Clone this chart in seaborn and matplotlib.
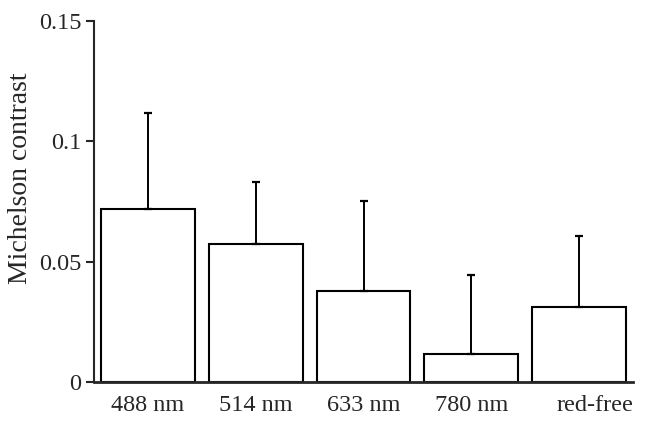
import numpy as np
import pandas as pd
import matplotlib
matplotlib.use("Agg")
import matplotlib.pyplot as plt
import matplotlib.transforms as mtransforms
import seaborn as sns

# values
wavelengths = ["488 nm", "514 nm", "633 nm", "780 nm", "red-free"]
contrast = [0.0718, 0.0573, 0.0379, 0.0115, 0.0310]
contrast_err = [0.0400, 0.0259, 0.0373, 0.0328, 0.0296]
ytick_vals = [0, 0.05, 0.1, 0.15]
ytick_labels = ["0", "0.05", "0.1", "0.15"]

sns.set_style("ticks")
plt.rcParams["font.family"] = ["Liberation Serif", "DejaVu Serif"]

df = pd.DataFrame({"wavelength": wavelengths, "contrast": contrast})

fig = plt.figure(figsize=(6.58, 4.24), dpi=100)
ax = fig.add_axes([0.143, 0.099, 0.819, 0.852])

sns.barplot(data=df, x="wavelength", y="contrast", ax=ax, color="white",
            edgecolor="black", linewidth=1.5, width=0.87, errorbar=None)
for p in ax.patches:
    p.set_facecolor("white")

# one-sided error bars (upper only)
ax.errorbar(np.arange(len(wavelengths)), contrast,
            yerr=[np.zeros(len(contrast)), contrast_err],
            fmt="none", ecolor="black", elinewidth=1.4, capsize=3, capthick=1.6)

ax.set_xlim(-0.5, 4.5)
ax.set_ylim(0, 0.15)
ax.set_yticks(ytick_vals)
ax.set_yticklabels(ytick_labels)
ax.set_xlabel("")
ax.set_ylabel("Michelson contrast", fontsize=20)
ax.yaxis.set_label_coords(-0.113, 0.565)

ax.tick_params(axis="y", labelsize=17.5, length=6, width=1.5, direction="out", pad=3)
ax.tick_params(axis="x", labelsize=17.5, length=0, pad=9)

sns.despine(ax=ax)
ax.spines["left"].set_linewidth(1.5)
ax.spines["bottom"].set_linewidth(2)

# last label sits a bit right of its bar in the original
lbl = ax.get_xticklabels()[-1]
lbl.set_transform(lbl.get_transform() + mtransforms.ScaledTranslation(16 / 100, 0, fig.dpi_scale_trans))

fig.savefig("out.png", dpi=100)
